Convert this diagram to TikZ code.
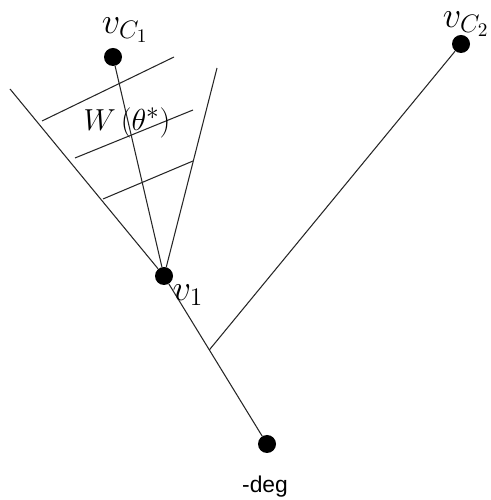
\documentclass[tikz,border=0pt]{standalone}
\usepackage{fontspec}
\newfontfamily\labelsans{Liberation Sans}
\usetikzlibrary{calc}

\begin{document}
\begin{tikzpicture}[
  dot/.style={circle, fill=black, inner sep=0pt, minimum size=0.36cm},
  edge/.style={draw=black!85, line width=0.6pt},
  vlabel/.style={inner sep=0pt, font=\fontsize{22}{26}\selectfont}
]
  \useasboundingbox (0,0) rectangle (9.8,10);
  % vertices
  \node[dot] (c1) at (2.26,8.86) {};
  \node[dot] (c2) at (9.22,9.12) {};
  \node[dot] (v1) at (3.28,4.48) {};
  \node[dot] (deg) at (5.34,1.12) {};
  % free ends
  \coordinate (wl) at (0.2,8.22);
  \coordinate (wr) at (4.34,8.64);
  \coordinate (foot) at ($(v1)!0.44!(deg)$);
  \coordinate (h1a) at (0.84,7.58);
  \coordinate (h1b) at (3.48,8.86);
  \coordinate (h2a) at (1.5,6.84);
  \coordinate (h2b) at (3.86,7.8);
  \coordinate (h3a) at (2.06,6.02);
  \coordinate (h3b) at (3.86,6.78);
  % cone and edges
  \draw[edge] (wl) -- (v1);
  \draw[edge] (wr) -- (v1);
  \draw[edge] (c1) -- (v1);
  \draw[edge] (v1) -- (deg);
  \draw[edge] (c2) -- (foot);
  \draw[edge] (h1a) -- (h1b);
  \draw[edge] (h2a) -- (h2b);
  \draw[edge] (h3a) -- (h3b);
  % labels
  \node[vlabel] (lc1) at (2.5,9.4) {$v_{C_1}$};
  \node[vlabel, anchor=south] (lc2) at (9.32,9.26) {$v_{C_2}$};
  \node[vlabel] (lv1) at (3.76,4.1) {$v_1$};
  \node[inner sep=0pt, font=\fontsize{19}{23}\selectfont] (w) at (2.54,7.54) {$W\,(\theta^*)$};
  \node[inner sep=0pt, font=\labelsans\fontsize{13}{15}\selectfont] (ldeg) at (5.3,0.26) {-deg};
\end{tikzpicture}
\end{document}
